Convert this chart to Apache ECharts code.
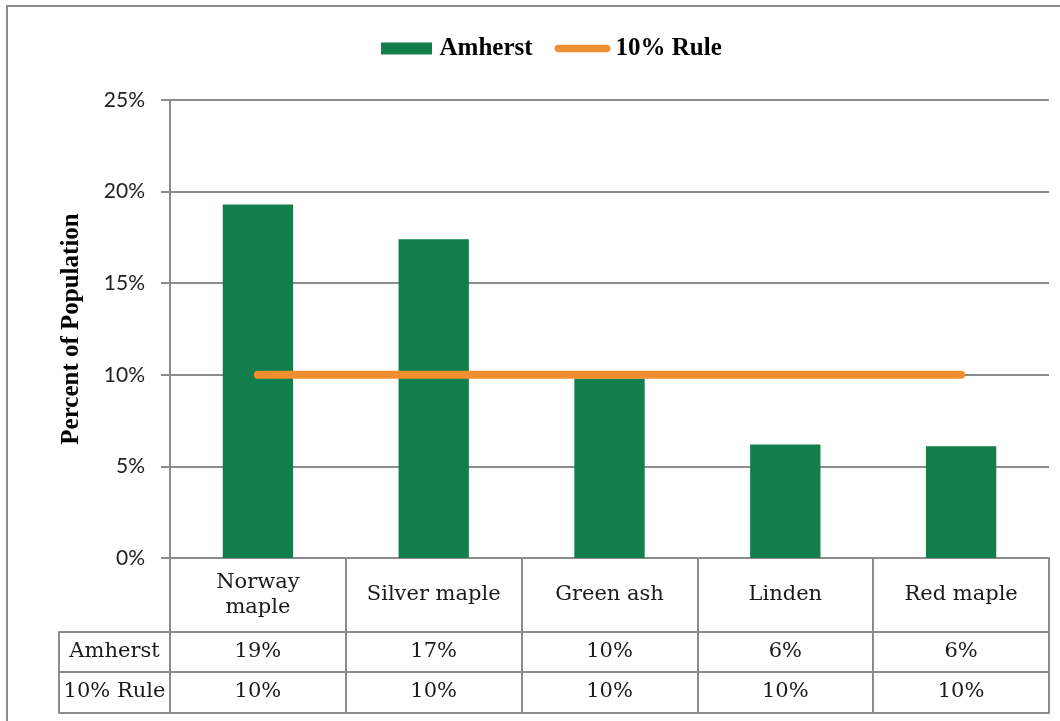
<!DOCTYPE html>
<html>
<head>
<meta charset="utf-8">
<script src="https://cdn.jsdelivr.net/npm/echarts@6/dist/echarts.min.js"></script>
<style>html,body{margin:0;padding:0;background:#fff}#chart{width:1060px;height:721px}</style>
</head>
<body>
<div id="chart"></div>
<script>
// ---- data ----
const categories = ['Norway\nmaple', 'Silver maple', 'Green ash', 'Linden', 'Red maple'];
const amherst = [0.193, 0.174, 0.098, 0.062, 0.061];
const rule = [0.10, 0.10, 0.10, 0.10, 0.10];
const seriesNames = ['Amherst', '10% Rule'];
const yTicks = { min: 0, max: 0.25, interval: 0.05 };
const yName = 'Percent of Population';

// ---- styles ----
const GRAY = '#8c8c8c';
const GREEN = '#117e4b';
const ORANGE = '#ef8f2f';
const SERIF = '"DejaVu Serif", serif';
const BOLDSERIF = '"Liberation Serif", "Times New Roman", serif';
const RECT_ICON = 'path://M0,0L51,0L51,12L0,12Z';
const PILL_ICON = 'path://M4,0L56,0C58.2,0 60,1.8 60,4C60,6.2 58.2,8 56,8L4,8C1.8,8 0,6.2 0,4C0,1.8 1.8,0 4,0Z';
const pct = v => Math.round(v * 100) + '%';
const line = { show: true, onZero: false, lineStyle: { color: GRAY, width: 2 } };
const tableLabel = (fmt) => ({
  show: true, interval: 0, margin: 20, verticalAlign: 'middle',
  fontFamily: SERIF, fontSize: 21, color: '#1a1a1a', formatter: fmt
});

const chart = echarts.init(document.getElementById('chart'), null, { renderer: 'canvas' });
chart.setOption({
  animation: false,
  backgroundColor: '#fff',
  graphic: [{
    type: 'rect', shape: { x: 7, y: 6, width: 1070, height: 730 },
    style: { fill: 'none', stroke: GRAY, lineWidth: 2 }, silent: true, z: -10
  }],
  legend: {
    left: 376, top: 31, itemWidth: 56, itemHeight: 12, itemGap: 22, symbolKeepAspect: true,
    textStyle: { fontFamily: BOLDSERIF, fontWeight: 'bold', fontSize: 25, color: '#000' },
    data: [
      { name: seriesNames[0], icon: RECT_ICON, itemStyle: { color: GREEN } },
      { name: seriesNames[1], icon: PILL_ICON, itemStyle: { color: ORANGE } }
    ]
  },
  grid: [
    { left: 170, right: 11, top: 100, bottom: 163 },
    { left: 59, width: 111, top: 100, bottom: 163 }
  ],
  xAxis: [
    { // category header row
      type: 'category', gridIndex: 0, data: categories, position: 'bottom',
      axisLine: line,
      axisTick: { show: true, length: 155, interval: 0, lineStyle: { color: GRAY, width: 2 } },
      axisLabel: Object.assign(tableLabel(), { margin: 37, lineHeight: 25 })
    },
    { // Amherst values row
      type: 'category', gridIndex: 0, data: categories, position: 'bottom', offset: 74,
      axisLine: line, axisTick: { show: false },
      axisLabel: tableLabel((v, i) => pct(amherst[i]))
    },
    { // 10% Rule values row
      type: 'category', gridIndex: 0, data: categories, position: 'bottom', offset: 114,
      axisLine: line, axisTick: { show: false },
      axisLabel: tableLabel((v, i) => pct(rule[i]))
    },
    { // bottom border
      type: 'category', gridIndex: 0, data: categories, position: 'bottom', offset: 155,
      axisLine: line, axisTick: { show: false }, axisLabel: { show: false }
    },
    { // row header: Amherst
      type: 'category', gridIndex: 1, data: [seriesNames[0]], position: 'bottom', offset: 74,
      axisLine: line,
      axisTick: { show: true, length: 81, interval: 0, lineStyle: { color: GRAY, width: 2 } },
      axisLabel: tableLabel()
    },
    { // row header: 10% Rule
      type: 'category', gridIndex: 1, data: [seriesNames[1]], position: 'bottom', offset: 114,
      axisLine: line, axisTick: { show: false },
      axisLabel: tableLabel()
    },
    {
      type: 'category', gridIndex: 1, data: [''], position: 'bottom', offset: 155,
      axisLine: line, axisTick: { show: false }, axisLabel: { show: false }
    }
  ],
  yAxis: [
    {
      type: 'value', gridIndex: 0, min: yTicks.min, max: yTicks.max, interval: yTicks.interval,
      name: yName, nameLocation: 'middle', nameGap: 86, nameRotate: 90,
      nameTextStyle: { fontFamily: BOLDSERIF, fontWeight: 'bold', fontSize: 25, color: '#000' },
      axisLine: { show: true, lineStyle: { color: GRAY, width: 2 } },
      axisTick: { show: true, length: 9, lineStyle: { color: GRAY, width: 2 } },
      axisLabel: { margin: 25, formatter: pct, fontFamily: 'Lato, sans-serif', fontSize: 21, color: '#222' },
      splitLine: { show: true, lineStyle: { color: GRAY, width: 2 } }
    },
    { type: 'value', gridIndex: 1, show: false, min: 0, max: 1 }
  ],
  series: [
    {
      name: seriesNames[0], type: 'bar', xAxisIndex: 0, yAxisIndex: 0,
      data: amherst, barWidth: '40%', itemStyle: { color: GREEN }
    },
    {
      name: seriesNames[1], type: 'line', xAxisIndex: 0, yAxisIndex: 0,
      data: rule, symbol: 'none', z: 5,
      lineStyle: { color: ORANGE, width: 8, cap: 'round' }, itemStyle: { color: ORANGE }
    }
  ]
});
</script>
</body>
</html>
